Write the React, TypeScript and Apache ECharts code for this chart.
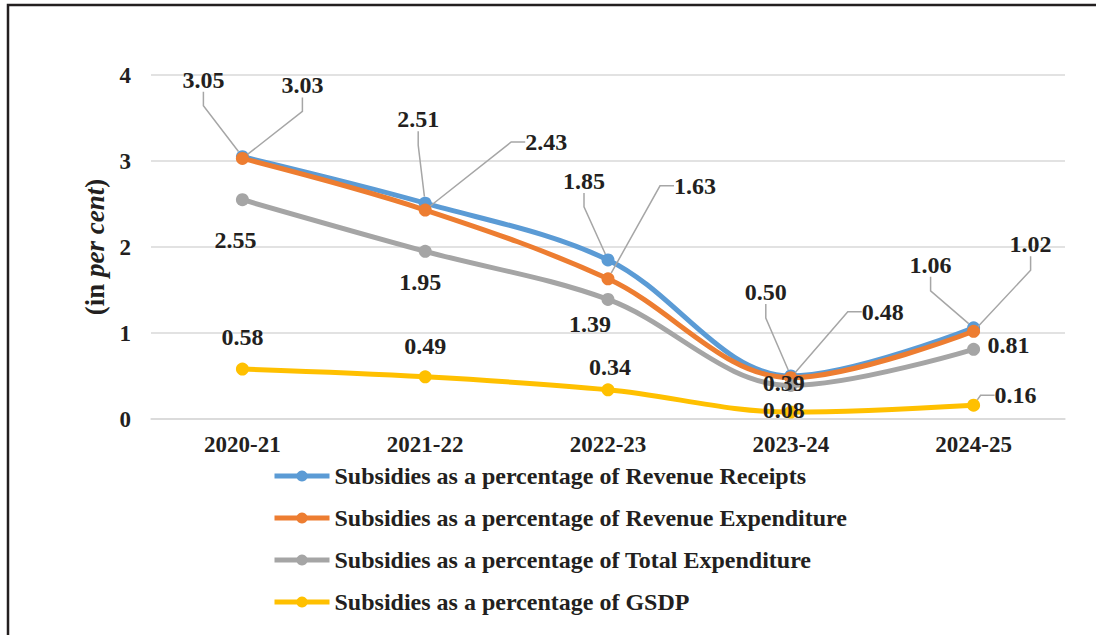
import React, { useEffect, useRef } from "react";
import * as echarts from "echarts";

const categories = ["2020-21", "2021-22", "2022-23", "2023-24", "2024-25"];
const revenueReceipts = [3.05, 2.51, 1.85, 0.5, 1.06];
const revenueExpenditure = [3.03, 2.43, 1.63, 0.48, 1.02];
const totalExpenditure = [2.55, 1.95, 1.39, 0.39, 0.81];
const gsdp = [0.58, 0.49, 0.34, 0.08, 0.16];
const seriesNames = [
  "Subsidies as a percentage of Revenue Receipts",
  "Subsidies as a percentage of Revenue Expenditure",
  "Subsidies as a percentage of Total Expenditure",
  "Subsidies as a percentage of GSDP",
];
const seriesValues = [revenueReceipts, revenueExpenditure, totalExpenditure, gsdp];
const colors = ["#5B9BD5", "#ED7D31", "#A5A5A5", "#FFC000"];

// label placement (px offset of label centre from its point)
const labelOffsets = [
  [[-39, -77], [-7, -84], [-24, -79], [-25, -84], [-43, -63]],
  [[60, -73], [121, -68], [87, -93], [92, -66], [57, -87]],
  [[-7, 40], [-5, 31], [-18, 25], [-7, -2], [35, -4]],
  [[0, -32], [0, -31], [2, -23], [-7, -2], [42, -10]],
];
const leaderLines = [
  [1, 1, 1, 1, 1],
  [1, 1, 1, 1, 1],
  [0, 0, 0, 0, 0],
  [0, 0, 0, 0, 1],
];

const FONT = "'Liberation Serif', 'Times New Roman', serif";
const TEXT = "#231f20";

export default function App() {
  const ref = useRef<HTMLDivElement>(null);
  useEffect(() => {
    if (!ref.current) return;
    const chart = echarts.init(ref.current, null, { renderer: "svg" });
    const series = seriesValues.map((vals, s) => ({
      name: seriesNames[s],
      type: "line",
      smooth: 0.35,
      symbol: "circle",
      symbolSize: 13,
      color: colors[s],
      lineStyle: { width: 5, color: colors[s] },
      itemStyle: { color: colors[s] },
      data: vals.map((v, i) => ({ value: v, labelLine: { show: !!leaderLines[s][i] } })),
      label: {
        show: true,
        position: "top",
        formatter: (p: any) => Number(p.value).toFixed(2),
        fontFamily: FONT,
        fontWeight: "bold",
        fontSize: 24,
        color: TEXT,
      },
      labelLine: {
        show: false,
        length2: 14,
        lineStyle: { color: "#a6a6a6", width: 1.5 },
      },
      labelLayout: (p: any) => {
        const off = labelOffsets[s][p.dataIndex];
        return {
          x: p.rect.x + p.rect.width / 2 + off[0],
          y: p.rect.y + p.rect.height / 2 + off[1],
          align: "center",
          verticalAlign: "middle",
        };
      },
      z: 2 + s,
    }));
    chart.setOption({
      animation: false,
      backgroundColor: "#ffffff",
      graphic: [
        {
          type: "rect",
          silent: true,
          shape: { x: 8, y: 5, width: 1300, height: 900 },
          style: { fill: "none", stroke: "#231f20", lineWidth: 2.5 },
          z: 100,
        },
      ],
      grid: { left: 151, right: 31, top: 75, bottom: 216, containLabel: false },
      xAxis: {
        type: "category",
        data: categories,
        boundaryGap: true,
        axisLine: { show: true, lineStyle: { color: "#d9d9d9", width: 1.5 } },
        axisTick: { show: false },
        axisLabel: {
          margin: 14,
          fontFamily: FONT,
          fontWeight: "bold",
          fontSize: 23,
          color: TEXT,
        },
      },
      yAxis: {
        type: "value",
        min: 0,
        max: 4,
        interval: 1,
        axisLine: { show: false },
        axisTick: { show: false },
        splitLine: { lineStyle: { color: "#d9d9d9", width: 1.5 } },
        axisLabel: {
          margin: 20,
          fontFamily: FONT,
          fontWeight: "bold",
          fontSize: 23,
          color: TEXT,
        },
        name: "{a|(in }{b|per cent}{a|)}",
        nameLocation: "middle",
        nameGap: 40,
        nameRotate: 90,
        nameTextStyle: {
          rich: {
            a: { fontFamily: FONT, fontWeight: "bold", fontSize: 27, color: TEXT },
            b: { fontFamily: FONT, fontWeight: "bold", fontStyle: "italic", fontSize: 27, color: TEXT },
          },
        },
      },
      legend: {
        orient: "vertical",
        left: 267,
        top: 459,
        itemWidth: 55,
        itemHeight: 14,
        itemGap: 18,
        data: seriesNames,
        lineStyle: { width: 5 },
        textStyle: {
          fontFamily: FONT,
          fontWeight: "bold",
          fontSize: 24,
          lineHeight: 24,
          color: TEXT,
        },
      },
      series,
    });
    return () => chart.dispose();
  }, []);
  return (
    <div
      ref={ref}
      style={{ position: "fixed", left: 0, top: 0, width: 1096, height: 635, background: "#fff" }}
    />
  );
}
